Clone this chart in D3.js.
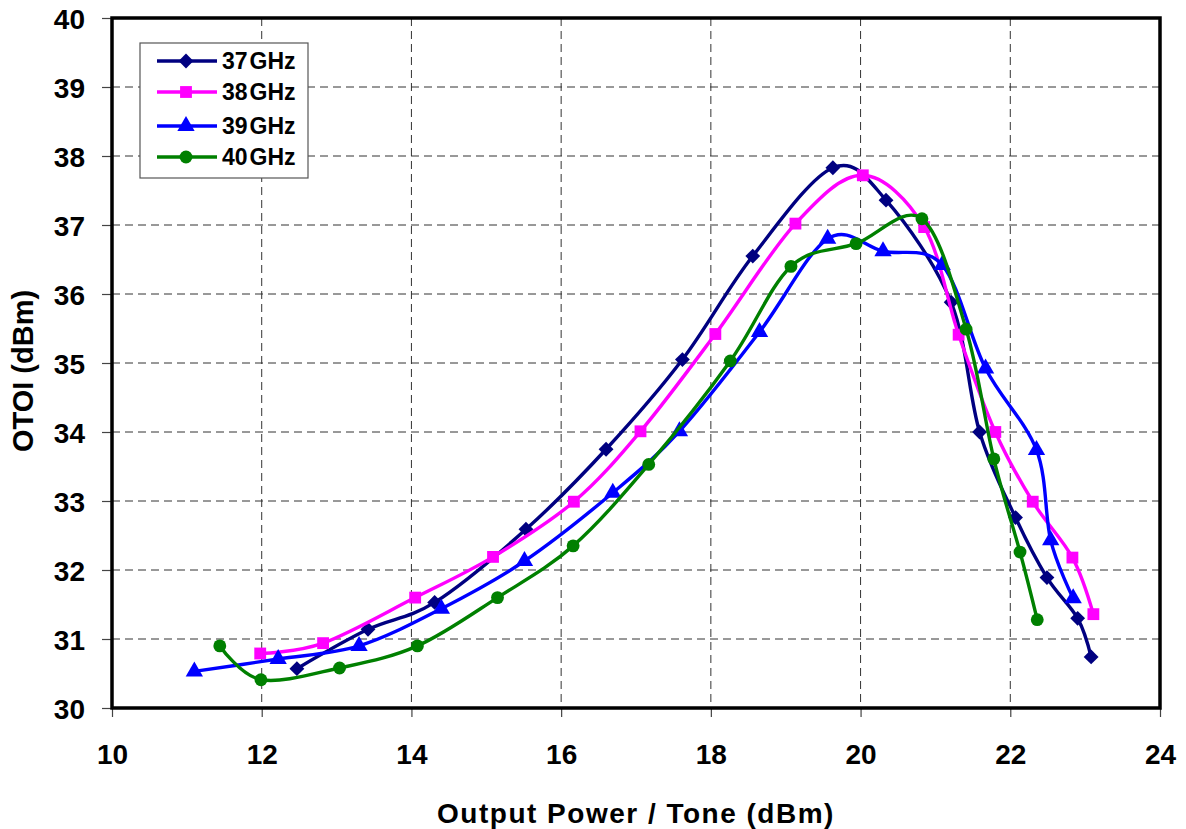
<!DOCTYPE html>
<html>
<head>
<meta charset="utf-8">
<script src="https://cdn.jsdelivr.net/npm/d3@7"></script>
<style>
  body { margin: 0; background: #fff; }
  text { font-family: Arial, "Liberation Sans", sans-serif; font-weight: bold; fill: #000; }
</style>
</head>
<body>
<div id="chart"></div>
<script>
var width = 1186;
var height = 829;
var margin = ({top: 18, right: 26, bottom: 121, left: 112});

// data: [output power, OTOI]
var f37 = [[12.47,30.57],[13.42,31.14],[14.31,31.53],[15.53,32.59],[16.6,33.75],[17.62,35.05],
           [18.56,36.55],[19.63,37.83],[20.34,37.36],[21.21,35.88],[21.59,34.0],[22.07,32.76],
           [22.49,31.89],[22.9,31.3],[23.08,30.74]];
var f38 = [[11.98,30.79],[12.82,30.94],[14.05,31.6],[15.09,32.19],[16.17,32.99],[17.06,34.01],
           [18.06,35.42],[19.13,37.02],[20.03,37.72],[20.85,36.97],[21.31,35.41],[21.8,34.0],
           [22.3,32.99],[22.83,32.18],[23.11,31.36]];
var f39 = [[11.1,30.53],[12.22,30.71],[13.3,30.9],[14.4,31.44],[15.51,32.13],[16.69,33.12],
           [17.58,34.01],[18.65,35.45],[19.56,36.8],[20.3,36.62],[21.09,36.42],[21.67,34.92],
           [22.35,33.74],[22.54,32.43],[22.84,31.59]];
var f40 = [[11.44,30.9],[11.99,30.41],[13.04,30.58],[14.08,30.9],[15.15,31.6],[16.16,32.35],
           [17.17,33.53],[18.26,35.03],[19.07,36.4],[19.94,36.73],[20.82,37.09],[21.41,35.49],
           [21.78,33.61],[22.13,32.26],[22.36,31.28]];

var series_names = ["37GHz", "38GHz", "39GHz", "40GHz"];
var series_data = [f37, f38, f39, f40];
var series_color = ["#000080", "#ff00ff", "#0000ff", "#008000"];

// excel style square diamond (rotated square)
var symbolRhomb = {
    draw: function(ctx, size) {
        var r = Math.sqrt(size / 2);
        ctx.moveTo(0, -r);
        ctx.lineTo(r, 0);
        ctx.lineTo(0, r);
        ctx.lineTo(-r, 0);
        ctx.closePath();
    }
};
var series_symbol = [symbolRhomb, d3.symbolSquare, d3.symbolTriangle, d3.symbolCircle];
var symbol_size = [110, 140, 130, 130];

var x_ticks = [10, 12, 14, 16, 18, 20, 22, 24];
var y_ticks = [30, 31, 32, 33, 34, 35, 36, 37, 38, 39, 40];

var svg = d3.select("#chart").append("svg")
    .attr("width", width)
    .attr("height", height);

var x = d3.scaleLinear()
    .domain([10, 24])
    .range([margin.left, width - margin.right]);
var y = d3.scaleLinear()
    .domain([30, 40])
    .range([height - margin.bottom, margin.top]);

// grid
svg.append("g")
    .selectAll("line")
    .data(x_ticks.slice(1, -1))
    .enter().append("line")
    .attr("x1", d => x(d)).attr("x2", d => x(d))
    .attr("y1", y(40)).attr("y2", y(30))
    .attr("stroke", "#333").attr("stroke-width", 1).attr("stroke-dasharray", "8,5");
svg.append("g")
    .selectAll("line")
    .data(y_ticks.slice(1, -1))
    .enter().append("line")
    .attr("x1", x(10)).attr("x2", x(24))
    .attr("y1", d => y(d)).attr("y2", d => y(d))
    .attr("stroke", "#333").attr("stroke-width", 1).attr("stroke-dasharray", "8,5");

// axes
var x_axis = svg.append("g")
    .attr("transform", "translate(0," + y(30) + ")")
    .call(d3.axisBottom(x).tickValues(x_ticks).tickSize(9).tickPadding(27).tickSizeOuter(0));
var y_axis = svg.append("g")
    .attr("transform", "translate(" + x(10) + ",0)")
    .call(d3.axisLeft(y).tickValues(y_ticks).tickSize(10).tickPadding(17).tickSizeOuter(0));
[x_axis, y_axis].forEach(function(a) {
    a.select(".domain").remove();
    a.selectAll(".tick line").attr("stroke", "#444").attr("stroke-width", 1.2);
    a.selectAll(".tick text")
        .style("font-size", "28px")
        .style("font-family", "Arial, 'Liberation Sans', sans-serif")
        .style("font-weight", "bold")
        .attr("fill", "#000");
});
y_axis.selectAll(".tick text").attr("dy", "0.36em");

// frame
svg.append("rect")
    .attr("x", x(10)).attr("y", y(40))
    .attr("width", x(24) - x(10)).attr("height", y(30) - y(40))
    .attr("fill", "none").attr("stroke", "#000").attr("stroke-width", 3.5);

// lines
var line = d3.line()
    .x(d => x(d[0]))
    .y(d => y(d[1]))
    .curve(d3.curveCardinal.tension(0));

series_data.forEach(function(data, i) {
    var g = svg.append("g");
    g.append("path")
        .datum(data)
        .attr("fill", "none")
        .attr("stroke", series_color[i])
        .attr("stroke-width", 3.4)
        .attr("stroke-linejoin", "round")
        .attr("d", line);
    g.selectAll("path.mk")
        .data(data)
        .enter().append("path")
        .attr("class", "mk")
        .attr("transform", d => "translate(" + x(d[0]) + "," + y(d[1]) + ")")
        .attr("d", d3.symbol().type(series_symbol[i]).size(symbol_size[i]))
        .attr("fill", series_color[i]);
});

// legend
var legend = svg.append("g");
legend.append("rect")
    .attr("x", 140).attr("y", 43).attr("width", 168).attr("height", 135)
    .attr("fill", "#fff").attr("stroke", "#555").attr("stroke-width", 1.2);
var leg_y = [61, 92, 126, 157];
series_names.forEach(function(name, i) {
    legend.append("line")
        .attr("x1", 157).attr("x2", 217)
        .attr("y1", leg_y[i]).attr("y2", leg_y[i])
        .attr("stroke", series_color[i]).attr("stroke-width", 3.4);
    legend.append("path")
        .attr("transform", "translate(186," + leg_y[i] + ")")
        .attr("d", d3.symbol().type(series_symbol[i]).size(symbol_size[i]))
        .attr("fill", series_color[i]);
    var t = legend.append("text")
        .attr("x", 222).attr("y", leg_y[i] + 8)
        .style("font-size", "23px");
    t.append("tspan").text(name.slice(0, 2));
    t.append("tspan").attr("dx", 2).text(name.slice(2));
});

// axis titles
svg.append("text")
    .attr("x", (x(10) + x(24)) / 2)
    .attr("y", 823)
    .attr("text-anchor", "middle")
    .style("font-size", "28px")
    .style("letter-spacing", "1.5px")
    .text("Output Power / Tone (dBm)");
svg.append("text")
    .attr("transform", "translate(33," + (y(35) + 8) + ") rotate(-90)")
    .attr("text-anchor", "middle")
    .style("font-size", "29px")
    .text("OTOI (dBm)");
</script>
</body>
</html>
